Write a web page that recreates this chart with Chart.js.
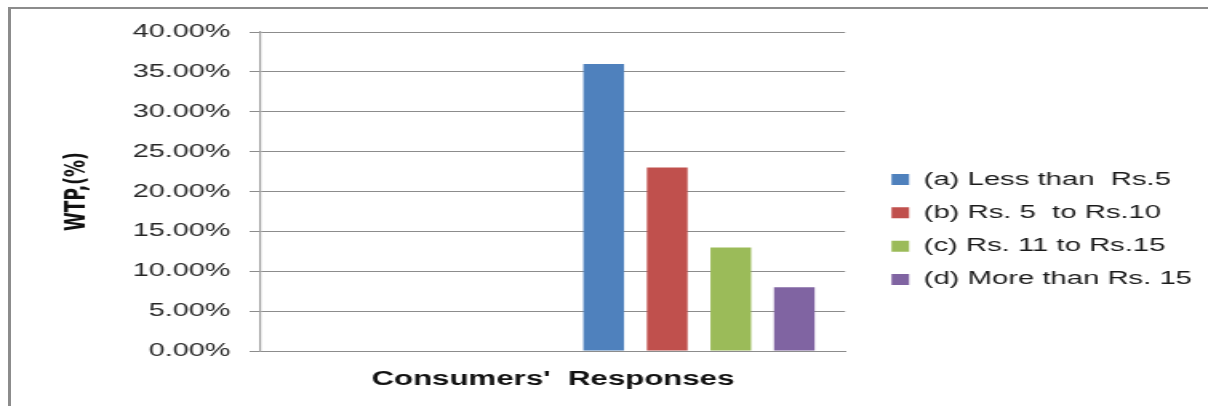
<!DOCTYPE html>
<html><head><meta charset="utf-8">
<script src="https://cdn.jsdelivr.net/npm/chart.js@4.4.1/dist/chart.umd.min.js"></script>
<style>
html,body{margin:0;padding:0;background:#fff;overflow:hidden;width:1208px;height:406px;}
#stage{position:absolute;left:0;top:0;width:755px;height:406px;transform:scaleX(1.6);transform-origin:0 0;}
#frame{position:absolute;left:8px;top:7px;right:-20px;bottom:-20px;border-left:3px solid #8c8c8c;border-top:2px solid #8c8c8c;pointer-events:none;}
</style></head>
<body>
<div id="stage"><canvas id="c" width="755" height="406"></canvas></div>
<div id="frame"></div>
<script>
const categories = ['', ''];
const seriesNames = ['(a) Less than  Rs.5', '(b) Rs. 5  to Rs.10', '(c) Rs. 11 to Rs.15', '(d) More than Rs. 15'];
const lessThan5 = [null, 36];
const rs5to10 = [null, 23];
const rs11to15 = [null, 13];
const moreThan15 = [null, 8];
const seriesColors = ['#4f81bd', '#c0504d', '#9bbb59', '#8064a2'];
const yAxisTitle = 'WTP,(%)';
const xAxisTitle = "Consumers'  Responses";
const yMin = 0, yMax = 40, yStep = 5;

const seriesValues = [lessThan5, rs5to10, rs11to15, moreThan15];

new Chart(document.getElementById('c'), {
  type: 'bar',
  data: {
    labels: categories,
    datasets: seriesNames.map((n, i) => ({
      label: n,
      data: seriesValues[i],
      backgroundColor: seriesColors[i],
      borderWidth: 0,
      categoryPercentage: 0.87,
      barPercentage: 0.64
    }))
  },
  options: {
    responsive: false,
    animation: false,
    devicePixelRatio: 1,
    layout: { padding: { left: 35, top: 32, right: 0, bottom: 11 } },
    plugins: {
      tooltip: { enabled: false },
      legend: {
        position: 'right',
        align: 'center',
        maxWidth: 400,
        title: { display: true, text: '', padding: { top: 17.6, bottom: 0 }, font: { size: 12 } },
        labels: {
          boxWidth: 11, boxHeight: 11, padding: 15,
          color: '#1a1a1a',
          font: { family: "'Liberation Sans', Arial, sans-serif", size: 18.3 }
        }
      }
    },
    scales: {
      x: {
        grid: { display: false, drawTicks: false },
        ticks: { display: false },
        border: { display: true, color: '#8c8c8c', width: 1 },
        title: {
          display: true, text: xAxisTitle, color: '#111',
          font: { family: "'Liberation Sans', Arial, sans-serif", size: 19.5, weight: 'bold' },
          padding: { top: 16.5, bottom: 4 }
        }
      },
      y: {
        min: yMin, max: yMax,
        afterFit: s => { s.width = 128; },
        ticks: {
          stepSize: yStep, padding: 12, color: '#262626',
          font: { family: "'Liberation Sans', Arial, sans-serif", size: 18 },
          callback: v => v.toFixed(2) + '%'
        },
        grid: { color: '#8c8c8c', lineWidth: 1, tickLength: 7, tickColor: '#8c8c8c' },
        border: { display: true, color: '#a0a0a0', width: 1.2 },
        title: {
          display: true, text: yAxisTitle, color: '#111',
          font: { family: "'DejaVu Sans', sans-serif", size: 17, weight: 'bold', lineHeight: 1.2 },
          padding: { top: 3, bottom: 24 }
        }
      },
      yGap: {
        position: 'right', display: true,
        afterFit: s => { s.width = 14; },
        grid: { display: false, drawTicks: false },
        border: { display: false },
        ticks: { display: false }
      }
    }
  }
});
</script>
</body></html>
